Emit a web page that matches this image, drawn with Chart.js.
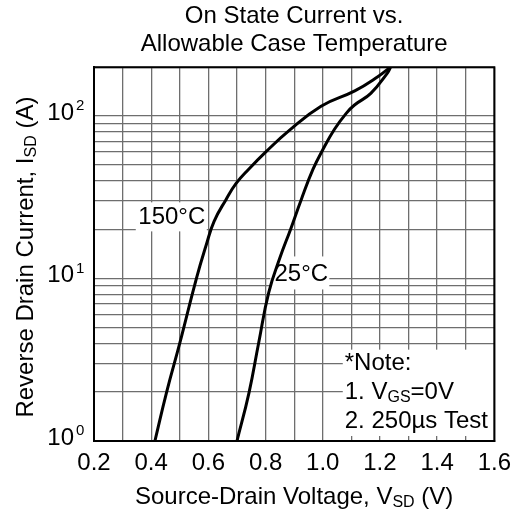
<!DOCTYPE html>
<html>
<head>
<meta charset="utf-8">
<script src="https://cdn.jsdelivr.net/npm/chart.js@4.4.1/dist/chart.umd.min.js"></script>
<style>
  html, body { margin: 0; padding: 0; background: #fff; }
  #box { width: 519px; height: 515px; }
</style>
</head>
<body>
<div id="box"><canvas id="grafico"></canvas></div>
<script>
// data
const vSd150 = [0.413, 0.454, 0.50, 0.558, 0.593, 0.62, 0.662, 0.697, 0.741, 0.80, 0.88, 0.994, 1.112, 1.191, 1.236];
const iSd150 = [1, 2, 4, 10, 16.2, 22.5, 30.7, 38.5, 47.1, 60, 80.8, 115, 143, 174, 200];
const vSd25 = [0.70, 0.742, 0.776, 0.811, 0.852, 0.887, 0.925, 0.966, 1.001, 1.041, 1.082, 1.111, 1.168, 1.226, 1.237];
const iSd25 = [1, 1.98, 4.03, 8.2, 13.7, 20, 30.7, 47.1, 62.5, 83, 104, 117, 138, 184, 200];

const yGridValues = [1, 2, 3, 4, 5, 6, 7, 8, 9, 10, 20, 30, 40, 50, 60, 70, 80, 90, 100, 200];
const yDecades = [1, 10, 100];
const yDecadeExp = ['0', '1', '2'];

const tituloLinhas = ['On State Current vs.', 'Allowable Case Temperature'];
const notaLinhas = [
  [{ t: '*Note:' }],
  [{ t: '1. V' }, { t: 'GS', sub: true }, { t: '=0V' }],
  [{ t: '2. 250\u00b5s Test' }]
];

const FONTE = "'Liberation Sans', Arial, Helvetica, sans-serif";
const TAM = 24;

function pontos(xs, ys) {
  return xs.map((x, i) => ({ x: x, y: ys[i] }));
}

// text with subscripts: measure, then draw from the left edge
function larguraPartes(ctx, partes, tam) {
  let w = 0;
  partes.forEach(p => {
    ctx.font = (p.sub ? Math.round(tam * 0.65) : tam) + 'px ' + FONTE;
    w += ctx.measureText(p.t).width;
  });
  return w;
}

function escreverPartes(ctx, partes, x, y, tam) {
  ctx.textAlign = 'left';
  ctx.textBaseline = 'middle';
  partes.forEach(p => {
    const s = p.sub ? Math.round(tam * 0.65) : tam;
    ctx.font = s + 'px ' + FONTE;
    ctx.fillText(p.t, x, p.sub ? y + tam * 0.22 : y);
    x += ctx.measureText(p.t).width;
  });
}

function escreverCentro(ctx, partes, cx, cy, tam) {
  const w = larguraPartes(ctx, partes, tam);
  escreverPartes(ctx, partes, cx - w / 2, cy, tam);
}

const extras = {
  id: 'extras',
  beforeDatasetsDraw(chart) {
    const ctx = chart.ctx;
    const sx = chart.scales.x, sy = chart.scales.y;
    ctx.save();
    ctx.fillStyle = '#fff';
    // white boxes behind the curve labels
    let cx = sx.getPixelForValue(0.472), cy = sy.getPixelForValue(23.8);
    ctx.fillRect(cx - 36, cy - 15, 71, 29);
    cx = sx.getPixelForValue(0.925); cy = sy.getPixelForValue(10.6);
    ctx.fillRect(cx - 31, cy - 18, 59, 33);
    ctx.restore();
  },
  afterDatasetsDraw(chart) {
    const ctx = chart.ctx;
    const a = chart.chartArea;
    const sx = chart.scales.x, sy = chart.scales.y;
    ctx.save();
    ctx.fillStyle = '#000';

    escreverCentro(ctx, [{ t: '150\u00b0C' }], sx.getPixelForValue(0.472), sy.getPixelForValue(23.8), TAM);
    escreverCentro(ctx, [{ t: '25\u00b0C' }], sx.getPixelForValue(0.925), sy.getPixelForValue(10.6), TAM);

    // note box
    const nx = sx.getPixelForValue(1.07);
    const ny = sy.getPixelForValue(3.65);
    ctx.fillStyle = '#fff';
    ctx.fillRect(nx, ny, a.right - nx, a.bottom - 5 - ny);
    ctx.fillStyle = '#000';
    notaLinhas.forEach((linha, i) => {
      escreverPartes(ctx, linha, nx + 2, ny + 14 + i * 29, TAM);
    });

    // y tick labels 10^n
    yDecades.forEach((d, i) => {
      const y = sy.getPixelForValue(d) - 3;
      ctx.font = TAM + 'px ' + FONTE;
      ctx.textAlign = 'right';
      ctx.textBaseline = 'middle';
      ctx.fillText('10', a.left - 20, y);
      ctx.font = '15px ' + FONTE;
      ctx.textAlign = 'left';
      ctx.fillText(yDecadeExp[i], a.left - 18, y - 7);
    });

    // axis titles
    escreverCentro(ctx, [{ t: 'Source-Drain Voltage, V' }, { t: 'SD', sub: true }, { t: ' (V)' }],
      (a.left + a.right) / 2, 497, TAM);
    ctx.translate(26, (a.top + a.bottom) / 2 + 3);
    ctx.rotate(-Math.PI / 2);
    escreverCentro(ctx, [{ t: 'Reverse Drain Current, I' }, { t: 'SD', sub: true }, { t: ' (A)' }], 0, 0, TAM);
    ctx.restore();

    // frame
    ctx.save();
    ctx.strokeStyle = '#000';
    ctx.lineWidth = 2;
    ctx.strokeRect(a.left, a.top, a.right - a.left, a.bottom - a.top);
    ctx.restore();
  }
};

const curva = {
  borderColor: '#000',
  borderWidth: 3,
  pointRadius: 0,
  fill: false,
  tension: 0.45
};

const grafico = new Chart(document.getElementById('grafico'), {
  type: 'line',
  data: {
    datasets: [
      Object.assign({ label: '150\u00b0C', data: pontos(vSd150, iSd150) }, curva),
      Object.assign({ label: '25\u00b0C', data: pontos(vSd25, iSd25) }, curva)
    ]
  },
  options: {
    responsive: true,
    maintainAspectRatio: false,
    animation: false,
    layout: { padding: { top: 0, left: 0, right: 21, bottom: 0 } },
    plugins: {
      legend: { display: false },
      tooltip: { enabled: false },
      title: {
        display: true,
        text: tituloLinhas,
        fullSize: false,
        color: '#000',
        font: { family: FONTE, size: TAM, weight: 'normal', lineHeight: 1.15 },
        padding: { top: 3, bottom: 9 }
      }
    },
    scales: {
      x: {
        type: 'linear',
        min: 0.2,
        max: 1.6,
        grid: { color: '#6e6e6e', lineWidth: 1.3, drawTicks: false },
        border: { color: '#000', width: 2 },
        ticks: {
          stepSize: 0.1,
          autoSkip: false,
          maxRotation: 0,
          padding: 8,
          color: '#000',
          font: { family: FONTE, size: TAM },
          callback: v => (Math.round(v * 10) % 2 === 0 ? v.toFixed(1) : '')
        },
        afterFit: s => { s.height = 74; }
      },
      y: {
        type: 'logarithmic',
        min: 1,
        max: 200,
        grid: { color: '#6e6e6e', lineWidth: 1.3, drawTicks: false },
        border: { color: '#000', width: 2 },
        ticks: { display: false },
        afterBuildTicks: s => { s.ticks = yGridValues.map(v => ({ value: v })); },
        afterFit: s => { s.width = 94; }
      }
    }
  },
  plugins: [extras]
});
</script>
</body>
</html>
